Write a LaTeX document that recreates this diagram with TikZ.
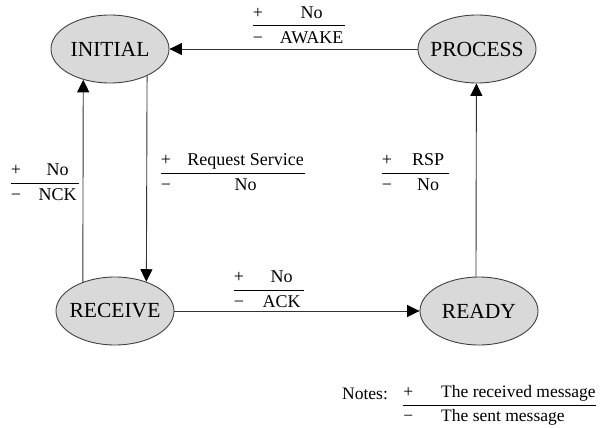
\documentclass[tikz,border=0pt]{standalone}
\usepackage{fontspec}
\setmainfont{Liberation Serif}
\usepackage{xcolor}
\usepackage{tikz}
\usetikzlibrary{arrows.meta,shapes.geometric}
\definecolor{stateFill}{HTML}{D9D9D9}
\definecolor{edgeGray}{HTML}{333333}
\setlength{\arrayrulewidth}{1pt}
% received message over sent message
\newcommand{\msg}[3]{%
  \renewcommand{\arraystretch}{1.1}%
  \begin{tabular}{@{}l@{\hspace{15pt}}c@{}}
    + & \makebox[#1]{#2}\\ \hline
    − & #3
  \end{tabular}}

\begin{document}
\begin{tikzpicture}[x=1pt, y=-1pt,
  >={Triangle[length=12.5pt,width=12pt,color=black]},
  state/.style={ellipse,draw=black!75,fill=stateFill,line width=0.9pt,
    minimum width=118pt,minimum height=68pt,inner xsep=-8pt,inner ysep=0pt,
    font=\fontsize{21.5}{24}\selectfont},
  link/.style={edgeGray,line width=0.9pt},
  msgl/.style={inner sep=0pt,font=\fontsize{18}{21.6}\selectfont}]
\useasboundingbox (0,0) rectangle (606,428);
% states
\node[state] (init) at (110,49) {INITIAL};
\node[state] (proc) at (477,49) {PROCESS};
\node[state] (recv) at (115,311) {RECEIVE};
\node[state] (ready) at (479,311) {READY};
% transitions
\draw[link,->] (proc) -- (init);
\draw[link,->] (recv) -- (ready);
\draw[link,->] (init.-36.8) -- (recv.43);
\draw[link,->] (recv.138.2) -- (init.-131.8);
\draw[link,->] (ready.95) -- (proc.-91.7);
% messages
\node[msgl] (mAwake) at (299,26) {\msg{67pt}{No}{AWAKE}};
\node[msgl] (mNck) at (45,183) {\msg{43pt}{No}{NCK}};
\node[msgl] (mReq) at (233,173) {\msg{119pt}{Request Service}{No}};
\node[msgl] (mRsp) at (415.5,173) {\msg{42pt}{RSP}{No}};
\node[msgl] (mAck) at (269,290) {\msg{45pt}{No}{ACK}};
% notes
\node[msgl,font=\fontsize{17.5}{21}\selectfont,anchor=base west] (notes) at (342,399) {Notes:};
\node[msgl,font=\fontsize{17.5}{21}\selectfont] (legend) at (499.5,405) {%
  \renewcommand{\arraystretch}{1.1}%
  \begin{tabular}{@{}l@{\hspace{28pt}}l@{}}
    + & The received message\\ \hline
    − & The sent message
  \end{tabular}};
\end{tikzpicture}
\end{document}
